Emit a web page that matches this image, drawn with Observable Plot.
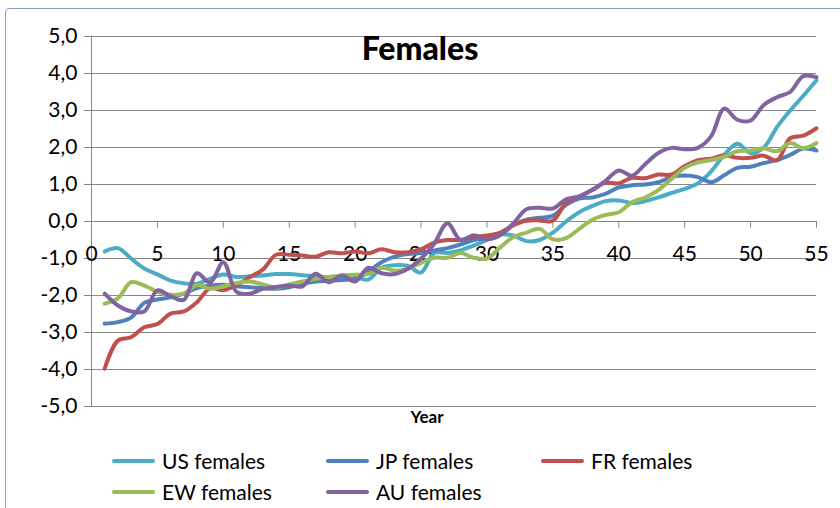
<!DOCTYPE html>
<html>
<head>
<meta charset="utf-8">
<script src="https://cdn.jsdelivr.net/npm/d3@7"></script>
<script src="https://cdn.jsdelivr.net/npm/@observablehq/plot@0.6"></script>
<style>
  html, body { margin: 0; padding: 0; background: #fff; }
  #wrap { position: relative; width: 840px; height: 508px; overflow: hidden; font-family: Lato, "Open Sans", sans-serif; }
  #frame { position: absolute; left: 5px; top: 8px; width: 900px; height: 600px; border: 1.5px solid #86a2c9; border-radius: 4px; box-sizing: border-box; }
  #chart { position: absolute; left: 0; top: 0; }
  #title { position: absolute; left: 0; width: 840px; top: 28px; text-align: center; font-weight: 900; font-size: 32px; color: #000; line-height: 40px; }
  #xlabel { position: absolute; left: 327px; width: 200px; top: 407px; text-align: center; font-weight: bold; font-size: 17px; color: #000; line-height: 20px; }
  .leg { position: absolute; display: flex; align-items: center; font-size: 21px; color: #000; line-height: 26px; white-space: nowrap; }
  .sw { width: 43px; height: 4.5px; border-radius: 2px; margin-right: 7px; }
</style>
</head>
<body>
<div id="wrap">
  <div id="frame"></div>
  <div id="chart"></div>
  <div id="title">Females</div>
  <div id="xlabel">Year</div>
  <div id="legend"></div>
</div>
<script>
const years = d3.range(1, 56);
const seriesNames = ["US females", "JP females", "FR females", "EW females", "AU females"];
const seriesColors = ["#4bacc6", "#4f81bd", "#c0504d", "#9bbb59", "#8064a2"];
const xTicks = [0, 5, 10, 15, 20, 25, 30, 35, 40, 45, 50, 55];
const yTicks = [-5, -4, -3, -2, -1, 0, 1, 2, 3, 4, 5];

const us = [-0.81,-0.72,-1.0,-1.27,-1.43,-1.6,-1.67,-1.68,-1.55,-1.43,-1.5,-1.48,-1.46,-1.42,-1.42,-1.45,-1.48,-1.5,-1.48,-1.5,-1.57,-1.25,-1.18,-1.2,-1.38,-0.85,-0.85,-0.78,-0.65,-0.5,-0.35,-0.38,-0.53,-0.5,-0.3,0.0,0.25,0.42,0.55,0.57,0.5,0.55,0.65,0.77,0.88,1.03,1.35,1.8,2.1,1.85,2.0,2.55,3.0,3.4,3.82];
const jp = [-2.76,-2.72,-2.6,-2.2,-2.11,-2.05,-1.95,-1.8,-1.73,-1.71,-1.75,-1.78,-1.8,-1.82,-1.78,-1.68,-1.62,-1.6,-1.58,-1.55,-1.35,-1.1,-0.95,-0.88,-0.85,-0.78,-0.72,-0.62,-0.5,-0.45,-0.35,-0.1,0.05,0.1,0.15,0.45,0.62,0.65,0.75,0.92,0.98,1.0,1.06,1.2,1.24,1.2,1.06,1.25,1.45,1.48,1.58,1.66,1.8,1.97,1.92];
const fr = [-3.98,-3.22,-3.13,-2.86,-2.77,-2.49,-2.43,-2.18,-1.8,-1.86,-1.72,-1.5,-1.3,-0.9,-0.9,-0.92,-0.95,-0.83,-0.86,-0.81,-0.86,-0.75,-0.83,-0.83,-0.75,-0.57,-0.5,-0.5,-0.42,-0.38,-0.3,-0.1,0.02,0.03,0.02,0.5,0.68,0.85,1.05,1.03,1.18,1.17,1.27,1.27,1.5,1.66,1.7,1.79,1.72,1.72,1.78,1.65,2.25,2.32,2.52];
const ew = [-2.22,-2.08,-1.64,-1.73,-1.9,-1.98,-1.95,-1.72,-1.82,-1.75,-1.66,-1.62,-1.7,-1.78,-1.7,-1.62,-1.55,-1.5,-1.46,-1.44,-1.42,-1.25,-1.33,-1.28,-1.12,-0.98,-0.98,-0.85,-0.98,-1.0,-0.7,-0.42,-0.3,-0.2,-0.48,-0.45,-0.2,0.05,0.18,0.25,0.52,0.65,0.85,1.15,1.45,1.6,1.66,1.75,1.9,1.92,1.98,1.9,2.12,1.98,2.12];
const au = [-1.95,-2.27,-2.43,-2.43,-1.86,-2.02,-2.12,-1.4,-1.65,-1.1,-1.9,-1.95,-1.82,-1.77,-1.73,-1.75,-1.41,-1.64,-1.46,-1.62,-1.25,-1.4,-1.42,-1.28,-1.0,-0.6,-0.05,-0.5,-0.37,-0.48,-0.37,-0.05,0.33,0.37,0.35,0.6,0.68,0.86,1.1,1.38,1.24,1.55,1.85,1.99,1.95,1.99,2.3,3.05,2.75,2.73,3.15,3.36,3.5,3.93,3.9];

const allValues = [us, jp, fr, ew, au];
const data = [];
allValues.forEach((arr, i) => arr.forEach((v, j) => data.push({series: seriesNames[i], year: years[j], value: v})));

const fmt = d => d.toFixed(1).replace(".", ",");

const chart = Plot.plot({
  width: 840,
  height: 508,
  marginLeft: 91,
  marginRight: 24,
  marginTop: 36,
  marginBottom: 102,
  style: {fontFamily: "Lato, 'Open Sans', sans-serif", background: "transparent"},
  x: {domain: [0, 55], axis: null},
  y: {domain: [-5, 5], axis: null},
  color: {domain: seriesNames, range: seriesColors},
  marks: [
    Plot.gridY(yTicks, {stroke: "#878787", strokeOpacity: 1, strokeWidth: 1}),
    Plot.axisY(yTicks, {tickFormat: fmt, tickSize: 7, tickPadding: 7, fontSize: 21, stroke: "#878787", color: "#000", label: null}),
    Plot.ruleX([0], {stroke: "#878787", strokeWidth: 1}),
    Plot.ruleX(xTicks.filter(d => d > 0), {x: d => d, y1: 0, y2: -0.18, stroke: "#878787", strokeWidth: 1}),
    Plot.text(xTicks, {x: d => d, y: 0, dy: 33, text: d => String(d), fontSize: 21, fill: "#000"}),
    Plot.line(data, {x: "year", y: "value", z: "series", stroke: "series", curve: "catmull-rom", strokeWidth: 4, strokeLinejoin: "round", strokeLinecap: "round"})
  ]
});
document.getElementById("chart").appendChild(chart);

const legendPos = [[112, 448], [326, 448], [541, 448], [112, 479], [326, 479]];
const legend = document.getElementById("legend");
seriesNames.forEach((name, i) => {
  const item = document.createElement("div");
  item.className = "leg";
  item.style.left = legendPos[i][0] + "px";
  item.style.top = legendPos[i][1] + "px";
  const sw = document.createElement("div");
  sw.className = "sw";
  sw.style.background = seriesColors[i];
  item.appendChild(sw);
  const t = document.createElement("span");
  t.textContent = name;
  item.appendChild(t);
  legend.appendChild(item);
});
</script>
</body>
</html>
